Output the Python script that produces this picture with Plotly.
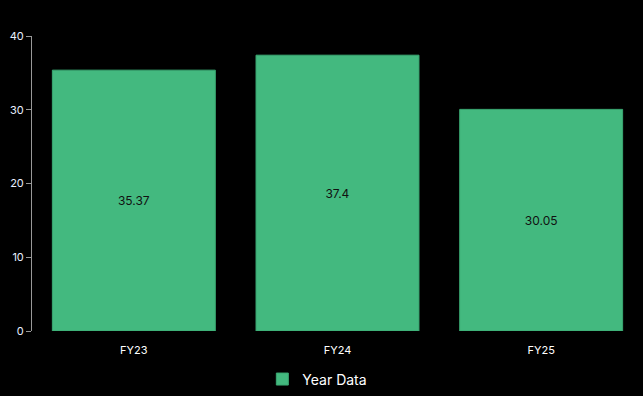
import plotly.graph_objects as go

categories = ["FY23", "FY24", "FY25"]
values = [35.37, 37.4, 30.05]
series_name = "Year Data"

fig = go.Figure()
fig.add_trace(go.Bar(
    x=categories, y=values, name=series_name,
    text=[str(v) for v in values], textposition="inside", insidetextanchor="middle",
    textfont=dict(color="#111111", size=12, family="Inter"),
    marker=dict(color="#43b97f", line=dict(color="#3aa872", width=1)),
    showlegend=True,
))
fig.update_layout(
    width=643, height=396,
    paper_bgcolor="black", plot_bgcolor="black",
    margin=dict(l=32, r=0, t=36, b=65),
    bargap=0.2,
    font=dict(family="Inter", color="#e8f0ff", size=11),
    showlegend=True,
    legend=dict(orientation="h", x=0.467, xanchor="center", y=-0.11, yanchor="top",
                font=dict(size=14, color="#ffffff")),
    xaxis=dict(showline=False, showgrid=False, ticks="outside", ticklen=9,
               tickcolor="rgba(0,0,0,0)", tickfont=dict(size=11, color="#ffffff")),
    yaxis=dict(range=[0, 40], dtick=10, showgrid=False, showline=True, linecolor="#999999",
               linewidth=1, ticks="outside", ticklen=5, tickcolor="#999999",
               tickfont=dict(size=11, color="#e8f0ff"), zeroline=False),
)
fig.write_html("out.html", config={"displayModeBar": False},
               post_script="document.body.style.margin='0';document.body.style.background='black';")
